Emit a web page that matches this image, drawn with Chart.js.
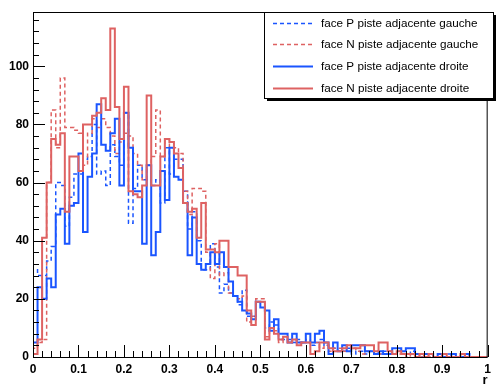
<!DOCTYPE html>
<html>
<head>
<meta charset="utf-8">
<script src="https://cdn.jsdelivr.net/npm/chart.js@4.4.0/dist/chart.umd.min.js"></script>
<style>
  html, body { margin: 0; padding: 0; background: #fff; }
  #wrap { width: 496px; height: 387px; }
</style>
</head>
<body>
<div id="wrap"><canvas id="histChart" width="496" height="387"></canvas></div>
<script>
// 100 bins of width 0.01 between 0 and 1
const binWidth = 0.01;
const xTicks = [0, 0.1, 0.2, 0.3, 0.4, 0.5, 0.6, 0.7, 0.8, 0.9, 1];
const yTicks = [0, 20, 40, 60, 80, 100];

const seriesLabels = [
  "face P piste adjacente gauche",
  "face N piste adjacente gauche",
  "face P piste adjacente droite",
  "face N piste adjacente droite",
];

const pGauche = [
  30, 28, 28, 33, 38, 60, 59, 45, 55, 63, 63, 68, 69, 80, 63, 64, 59, 73, 69, 66,
  84, 46, 58, 66, 61, 61, 59, 61, 53, 72, 63, 68, 68, 57, 44, 50, 40, 30, 30, 39,
  31, 22, 25, 22, 21, 18, 23, 14, 14, 19, 19, 10, 12, 11, 6, 6, 6, 5, 6, 5,
  5, 4, 5, 6, 4, 3, 3, 2, 2, 3, 1, 2, 2, 1, 2, 1, 1, 2, 1, 1,
  2, 1, 1, 2, 1, 0, 1, 1, 0, 0, 0, 1, 0, 0, 1, 0, 0, 0, 0, 0,
];

const nGauche = [
  3, 5, 6, 60, 85, 72, 96, 79, 79, 78, 77, 66, 77, 82, 79, 82, 79, 76, 70, 74,
  77, 76, 70, 66, 61, 66, 69, 85, 69, 75, 72, 72, 70, 57, 49, 58, 58, 57, 36, 27,
  39, 28, 29, 22, 21, 20, 21, 12, 14, 20, 20, 7, 9, 9, 5, 6, 5, 6, 5, 5,
  6, 5, 5, 3, 4, 2, 3, 3, 2, 2, 3, 2, 1, 2, 2, 1, 1, 1, 2, 1,
  1, 1, 0, 1, 1, 0, 1, 0, 0, 1, 0, 0, 1, 0, 0, 0, 0, 0, 0, 0,
];

const pDroite = [
  5, 24, 20, 27, 24, 49, 51, 39, 52, 53, 70, 43, 62, 70, 87, 73, 71, 77, 82, 59,
  84, 72, 57, 57, 39, 66, 35, 43, 64, 54, 72, 62, 61, 53, 35, 48, 32, 30, 32, 36,
  32, 36, 31, 26, 21, 19, 16, 15, 13, 19, 17, 16, 9, 13, 8, 8, 5, 8, 5, 5,
  8, 5, 8, 9, 5, 1, 5, 2, 4, 2, 4, 4, 4, 2, 2, 1, 2, 1, 1, 3,
  3, 2, 3, 3, 1, 1, 1, 1, 0, 1, 0, 0, 1, 0, 0, 1, 0, 0, 0, 0,
];

const nDroite = [
  1, 6, 41, 60, 75, 73, 77, 50, 69, 69, 64, 80, 80, 83, 84, 89, 85, 113, 86, 75,
  93, 57, 56, 55, 59, 90, 59, 59, 69, 75, 74, 70, 65, 53, 50, 51, 41, 53, 37, 37,
  36, 40, 40, 31, 31, 28, 28, 16, 11, 19, 19, 6, 10, 8, 6, 7, 5, 6, 4, 5,
  5, 1, 2, 5, 5, 3, 2, 2, 3, 4, 3, 3, 4, 4, 4, 2, 5, 5, 2, 1,
  2, 1, 1, 1, 0, 1, 0, 1, 0, 0, 1, 0, 0, 0, 1, 0, 0, 0, 0, 0,
];

const blue = "#1a55ff";
const red = "#de6262";

// histogram outline: one point per bin low edge, closed at both ends
function toSteps(values) {
  const pts = [{ x: 0, y: 0 }];
  values.forEach((v, i) => pts.push({ x: i * binWidth, y: v }));
  pts.push({ x: values.length * binWidth, y: values[values.length - 1] });
  pts.push({ x: values.length * binWidth, y: 0 });
  return pts;
}

function histDataset(label, values, color, dashed, order) {
  return {
    label: label,
    data: toSteps(values),
    borderColor: color,
    borderWidth: dashed ? 1.5 : 2,
    borderDash: dashed ? [4, 3] : [],
    stepped: "before",
    pointRadius: 0,
    fill: false,
    order: order,
  };
}

// ROOT style frame with inward ticks
const rootAxes = {
  id: "rootAxes",
  afterDraw(chart) {
    const { ctx, chartArea: a, scales } = chart;
    ctx.save();
    ctx.strokeStyle = "#000";
    ctx.lineWidth = 1;
    ctx.strokeRect(a.left + 0.5, a.top + 0.5, a.right - a.left - 1, a.bottom - a.top);
    ctx.beginPath();
    for (let v = 0; v <= scales.y.max; v += 4) {
      const py = Math.round(scales.y.getPixelForValue(v)) + 0.5;
      const len = v % 20 === 0 ? 12 : 6;
      ctx.moveTo(a.left, py);
      ctx.lineTo(a.left + len, py);
    }
    for (let k = 0; k <= 50; k++) {
      const px = Math.round(scales.x.getPixelForValue(k * 0.02)) + 0.5;
      const len = k % 5 === 0 ? 12 : 6;
      ctx.moveTo(px, a.bottom);
      ctx.lineTo(px, a.bottom - len);
    }
    ctx.stroke();
    ctx.restore();
  },
};

const rootLegend = {
  id: "rootLegend",
  afterDraw(chart) {
    const { ctx } = chart;
    const bx = 264, by = 12, bw = 229, bh = 86;
    ctx.save();
    ctx.fillStyle = "#000";
    ctx.fillRect(bx + 3, by + 3, bw, bh);
    ctx.fillStyle = "#fff";
    ctx.fillRect(bx, by, bw, bh);
    ctx.strokeStyle = "#000";
    ctx.lineWidth = 1;
    ctx.strokeRect(bx + 0.5, by + 0.5, bw, bh);
    ctx.font = '11.7px "Liberation Sans", Arial, sans-serif';
    ctx.textBaseline = "middle";
    chart.data.datasets.forEach((ds, i) => {
      const ry = Math.round(by + 10.7 + i * 21.7) + 0.5;
      ctx.strokeStyle = ds.borderColor;
      ctx.lineWidth = ds.borderWidth;
      ctx.setLineDash(ds.borderDash);
      ctx.beginPath();
      ctx.moveTo(273, ry);
      ctx.lineTo(313, ry);
      ctx.stroke();
      ctx.setLineDash([]);
      ctx.fillStyle = "#000";
      ctx.fillText(ds.label, 321, ry);
    });
    ctx.restore();
  },
};

const tickFont = { family: '"Liberation Sans", Arial, sans-serif', size: 12, weight: "bold" };

const ctx = document.getElementById("histChart").getContext("2d");
new Chart(ctx, {
  type: "line",
  data: {
    datasets: [
      histDataset(seriesLabels[0], pGauche, blue, true, 4),
      histDataset(seriesLabels[1], nGauche, red, true, 3),
      histDataset(seriesLabels[2], pDroite, blue, false, 2),
      histDataset(seriesLabels[3], nDroite, red, false, 1),
    ],
  },
  options: {
    responsive: false,
    animation: false,
    devicePixelRatio: 1,
    layout: { padding: { top: 12, right: 3, left: 0, bottom: 0 } },
    plugins: { legend: { display: false }, tooltip: { enabled: false } },
    scales: {
      x: {
        type: "linear",
        min: 0,
        max: 1,
        afterFit: (s) => { s.height = 30; },
        afterBuildTicks: (s) => { s.ticks = xTicks.map((v) => ({ value: v })); },
        grid: { display: false, drawTicks: false },
        border: { display: false },
        ticks: {
          autoSkip: false,
          maxRotation: 0,
          padding: 5,
          color: "#000",
          font: tickFont,
          callback: (v) => String(parseFloat(v.toFixed(1))),
        },
        title: {
          display: true,
          text: "r",
          align: "end",
          color: "#000",
          padding: { top: 0, bottom: 0 },
          font: { family: '"Liberation Sans", Arial, sans-serif', size: 13, weight: "bold", lineHeight: 1 },
        },
      },
      y: {
        min: 0,
        max: 118.7,
        afterFit: (s) => { s.width = 33; },
        afterBuildTicks: (s) => { s.ticks = yTicks.map((v) => ({ value: v })); },
        grid: { display: false, drawTicks: false },
        border: { display: false },
        ticks: { padding: 4, color: "#000", font: tickFont },
      },
    },
  },
  plugins: [rootAxes, rootLegend],
});
</script>
</body>
</html>
